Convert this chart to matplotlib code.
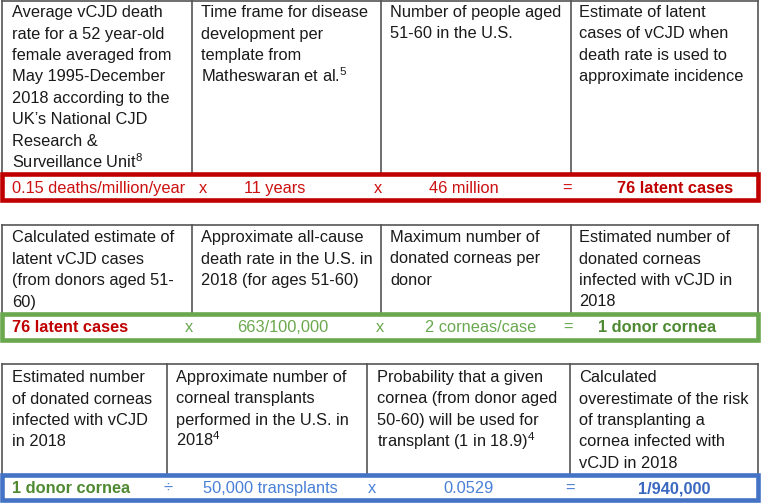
import matplotlib.pyplot as plt
from matplotlib.patches import Rectangle

plt.rcParams['font.family'] = ['Liberation Sans', 'DejaVu Sans']
plt.rcParams['mathtext.fontset'] = 'custom'
plt.rcParams['mathtext.rm'] = 'Liberation Sans'

# --- contenu du tableau ---
headers1 = [
    ["Average vCJD death", "rate for a 52 year-old", "female averaged from",
     "May 1995-December", "2018 according to the", "UK\u2019s National CJD",
     "Research &", "Surveillance Unit$^{8}$"],
    ["Time frame for disease", "development per", "template from",
     "Matheswaran et al.$^{5}$"],
    ["Number of people aged", "51-60 in the U.S."],
    ["Estimate of latent", "cases of vCJD when", "death rate is used to",
     "approximate incidence"],
]
headers2 = [
    ["Calculated estimate of", "latent vCJD cases", "(from donors aged 51-", "60)"],
    ["Approximate all-cause", "death rate in the U.S. in", "2018 (for ages 51-60)"],
    ["Maximum number of", "donated corneas per", "donor"],
    ["Estimated number of", "donated corneas", "infected with vCJD in", "2018"],
]
headers3 = [
    ["Estimated number", "of donated corneas", "infected with vCJD", "in 2018"],
    ["Approximate number of", "corneal transplants", "performed in the U.S. in",
     "2018$^{4}$"],
    ["Probability that a given", "cornea (from donor aged", "50-60) will be used for",
     "transplant (1 in 18.9)$^{4}$"],
    ["Calculated", "overestimate of the risk", "of transplanting a",
     "cornea infected with", "vCJD in 2018"],
]

row1 = ["0.15 deaths/million/year", "x", "11 years", "x", "46 million", "=", "76 latent cases"]
row2 = ["76 latent cases", "x", "663/100,000", "x", "2 corneas/case", "=", "1 donor cornea"]
row3 = ["1 donor cornea", "\u00f7", "50,000 transplants", "x", "0.0529", "=", "1/940,000"]

# --- couleurs ---
RED, RED_T = '#c00000', '#cc1111'
GREEN, GREEN_T, GREEN_B = '#6aa84f', '#6aa84f', '#4f8a32'
BLUE, BLUE_T, BLUE_B = '#4472c4', '#4a80d6', '#3a68c0'
GRID = '#555555'

row1_col = [RED_T] * 6 + [RED]
row2_col = [RED] + [GREEN_T] * 5 + [GREEN_B]
row3_col = [GREEN_B] + [BLUE_T] * 5 + [BLUE_B]
bold_idx = {0: [6], 1: [0, 6], 2: [0, 6]}

# --- mise en page (pixels) ---
blocks = [
    dict(top=0.5, bottom=174, cols=[2, 192, 381, 571, 758],
         text_x=[12, 201, 390, 579], base=17,
         row_x=[12, 203, 275, 378, 464, 567, 675], row_base=193,
         box=RED, heads=headers1, row=row1, colors=row1_col),
    dict(top=225, bottom=314, cols=[2, 192, 381, 571, 758],
         text_x=[12, 201, 390, 579], base=242,
         row_x=[12, 189, 283, 380, 481, 568, 657], row_base=332,
         box=GREEN, heads=headers2, row=row2, colors=row2_col),
    dict(top=364, bottom=474.5, cols=[2, 167, 367, 570, 758],
         text_x=[12, 176, 377, 579], base=382,
         row_x=[12, 168, 270, 372, 468, 570, 674], row_base=493,
         box=BLUE, heads=headers3, row=row3, colors=row3_col),
]
box_h = 25.5
fs = 11.8
step = 21.5

fig = plt.figure(figsize=(7.62, 5.04), dpi=100)
ax = fig.add_axes([0, 0, 1, 1])
ax.set_xlim(0, 762)
ax.set_ylim(504, 0)
ax.axis('off')

for b_i, b in enumerate(blocks):
    # bordures grises
    c = b['cols']
    ax.plot([c[0], c[-1]], [b['top'], b['top']], color=GRID, lw=1.2)
    for x in c:
        ax.plot([x, x], [b['top'], b['bottom']], color=GRID, lw=1.2)
    # textes d'en-tête
    for j, lines in enumerate(b['heads']):
        for k, line in enumerate(lines):
            ax.text(b['text_x'][j], b['base'] + k * step, line, fontsize=fs,
                    color='#1a1a1a', ha='left', va='baseline')
    # cadre coloré
    ax.add_patch(Rectangle((2, b['bottom']), 756, box_h, fill=False,
                           edgecolor=b['box'], lw=3.3, zorder=3))
    # ligne de calcul
    for j, txt in enumerate(b['row']):
        bold = j in bold_idx[b_i]
        ha = 'left' if j == 0 else 'center'
        ax.text(b['row_x'][j], b['row_base'], txt, fontsize=fs,
                color=b['colors'][j], ha=ha, va='baseline',
                fontweight='bold' if bold else 'normal')

fig.savefig('out.png', dpi=100)
